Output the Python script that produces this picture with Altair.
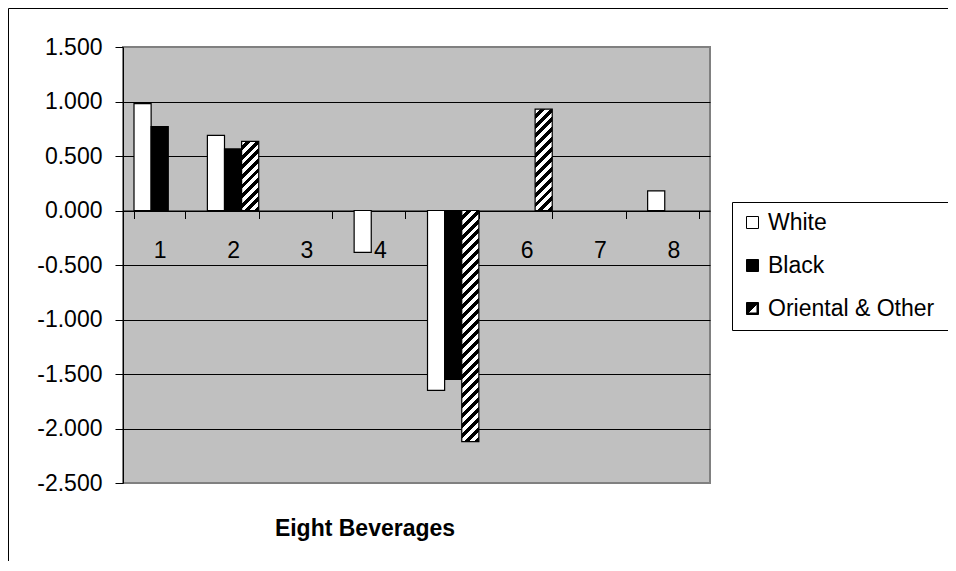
import altair as alt
import pandas as pd

# ---- data ----
CATEGORIES = ["1", "2", "3", "4", "5", "6", "7", "8"]
SERIES = ["White", "Black", "Oriental & Other"]
WHITE = [0.98, 0.69, None, -0.385, -1.65, None, None, 0.18]
BLACK = [0.77, 0.565, None, None, -1.55, None, None, None]
ORIENTAL = [None, 0.635, None, None, -2.12, 0.93, None, None]
Y_TICKS = [-2.5, -2.0, -1.5, -1.0, -0.5, 0.0, 0.5, 1.0, 1.5]
X_TITLE = "Eight Beverages"

# ---- layout / style ----
W, H = 587, 436
Y_MIN, Y_MAX = -2.5, 1.5
PAD_IN, PAD_OUT = 0.3, 0.15
FONT = "Liberation Sans"
FS = 23
HATCH_PERIOD = 10.0

rows = []
for s, vals in zip(SERIES, [WHITE, BLACK, ORIENTAL]):
    for c, v in zip(CATEGORIES, vals):
        if v is not None:
            rows.append({"bev": c, "series": s, "value": v})
df = pd.DataFrame(rows)

zero_from_top = H * Y_MAX / (Y_MAX - Y_MIN)
x_axis_offset = -(H - zero_from_top)

x_enc = alt.X(
    "bev:N",
    scale=alt.Scale(domain=CATEGORIES, paddingInner=PAD_IN, paddingOuter=PAD_OUT),
    axis=alt.Axis(
        title=None, labelAngle=0, labelFont=FONT, labelFontSize=FS, labelColor="black",
        labelPadding=21, domainColor="black", domainWidth=1, tickColor="black",
        tickSize=8, tickBand="extent", offset=x_axis_offset, grid=False,
    ),
)
xoff_enc = alt.XOffset("series:N", scale=alt.Scale(domain=SERIES, paddingInner=0, paddingOuter=0))
y_enc = alt.Y(
    "value:Q",
    scale=alt.Scale(domain=[Y_MIN, Y_MAX], nice=False),
    axis=alt.Axis(
        title=None, values=Y_TICKS,
        labelExpr="replace(format(datum.value, '.3f'), '\u2212', '-')",
        labelFont=FONT, labelFontSize=FS,
        labelColor="black", labelPadding=13, domainColor="black", tickColor="black",
        tickSize=8, grid=True, gridWidth=1,
        gridColor={"condition": {"test": "datum.value >= 1.5 || datum.value <= -2.5",
                                 "value": "#808080"}, "value": "black"},
    ),
)

layers = []

# frame around the whole chart (only its top and left edges fall inside the page)
frame = alt.Chart(pd.DataFrame({"a": [0]})).mark_rect(
    fill="transparent", stroke="black", strokeWidth=1
).encode(
    x=alt.value(-114.5), x2=alt.value(W + 300), y=alt.value(-38.5), y2=alt.value(H + 150)
)

white_bars = alt.Chart(df[df["series"] == "White"]).mark_bar(
    fill="white", stroke="black", strokeWidth=1.2
).encode(x=x_enc, xOffset=xoff_enc, y=y_enc, y2=alt.datum(0))
black_bars = alt.Chart(df[df["series"] == "Black"]).mark_bar(
    fill="black", stroke="black", strokeWidth=1.2
).encode(x=x_enc, xOffset=xoff_enc, y=y_enc, y2=alt.datum(0))
layers += [white_bars, black_bars]

# hatched bars: one diagonal-stripe gradient per bar
step = W / (len(CATEGORIES) - PAD_IN + 2 * PAD_OUT)
bar_w = step * (1 - PAD_IN) / len(SERIES)
px_per_unit = H / (Y_MAX - Y_MIN)
odf = df[df["series"] == "Oriental & Other"]
for bev, val in zip(odf["bev"], odf["value"]):
    h = abs(val) * px_per_unit
    w = bar_w
    s = (1 / h + 1 / w) / (1 / h ** 2 + 1 / w ** 2)
    n = max(1, int(round((w + h) / HATCH_PERIOD)))
    stops = []
    for i in range(n):
        a, m, b = i / n, (i + 0.5) / n, (i + 1) / n
        stops += [
            {"offset": a, "color": "white"},
            {"offset": m, "color": "white"},
            {"offset": m, "color": "black"},
            {"offset": b, "color": "black"},
        ]
    grad = {"gradient": "linear", "x1": 0, "y1": 0, "x2": s / h, "y2": s / w, "stops": stops}
    layers.append(
        alt.Chart(odf[odf["bev"] == bev]).mark_bar(
            fill=grad, stroke="black", strokeWidth=1.2
        ).encode(x=x_enc, xOffset=xoff_enc, y=y_enc, y2=alt.datum(0))
    )

# legend (invisible points carry fill + stroke + shape)
SQUARE = "M-1,-1H1V1H-1Z"
HATCH_SYM = "M-1,-1H1V1H-1Z M-0.75,-0.75V0.75H0.75V-0.75Z M-0.75,-0.75H0.75L-0.75,0.75Z"
leg = alt.Legend(
    orient="none", legendX=609, legendY=155, strokeColor="black", fillColor="white",
    padding=9, rowPadding=19, labelFont=FONT, labelFontSize=FS, labelColor="black",
    symbolSize=144, symbolStrokeWidth=1, labelOffset=4,
    symbolOpacity=1, labelLimit=400,
    titleOrient="right", titlePadding=20, titleFontSize=FS,
)
legend_layer = alt.Chart(pd.DataFrame({"series": SERIES})).mark_point(
    opacity=0
).encode(
    x=alt.value(0), y=alt.value(0),
    fill=alt.Fill("series:N", title="\u00a0",
                  scale=alt.Scale(domain=SERIES, range=["white", "black", "black"]), legend=leg),
    stroke=alt.Stroke("series:N", title="\u00a0",
                      scale=alt.Scale(domain=SERIES, range=["black", "black", "black"]), legend=leg),
    shape=alt.Shape("series:N", title="\u00a0",
                    scale=alt.Scale(domain=SERIES, range=[SQUARE, SQUARE, HATCH_SYM]), legend=leg),
)
layers.append(legend_layer)

# axis title below the plot
title_layer = alt.Chart(pd.DataFrame({"t": [X_TITLE]})).mark_text(
    font=FONT, fontSize=FS, fontWeight="bold", color="black",
    align="center", baseline="alphabetic",
).encode(text="t:N", x=alt.value(242), y=alt.value(H + 53))
layers.append(title_layer)
layers.append(frame)

chart = alt.layer(*layers).properties(
    width=W, height=H,
    autosize=alt.AutoSizeParams(type="none"),
    padding={"left": 115, "top": 39, "right": 238, "bottom": 78},
    background="white",
).configure_view(fill="#c0c0c0", stroke="#808080", strokeWidth=2)

chart.save("out.html", embed_options={"renderer": "svg", "actions": False})
